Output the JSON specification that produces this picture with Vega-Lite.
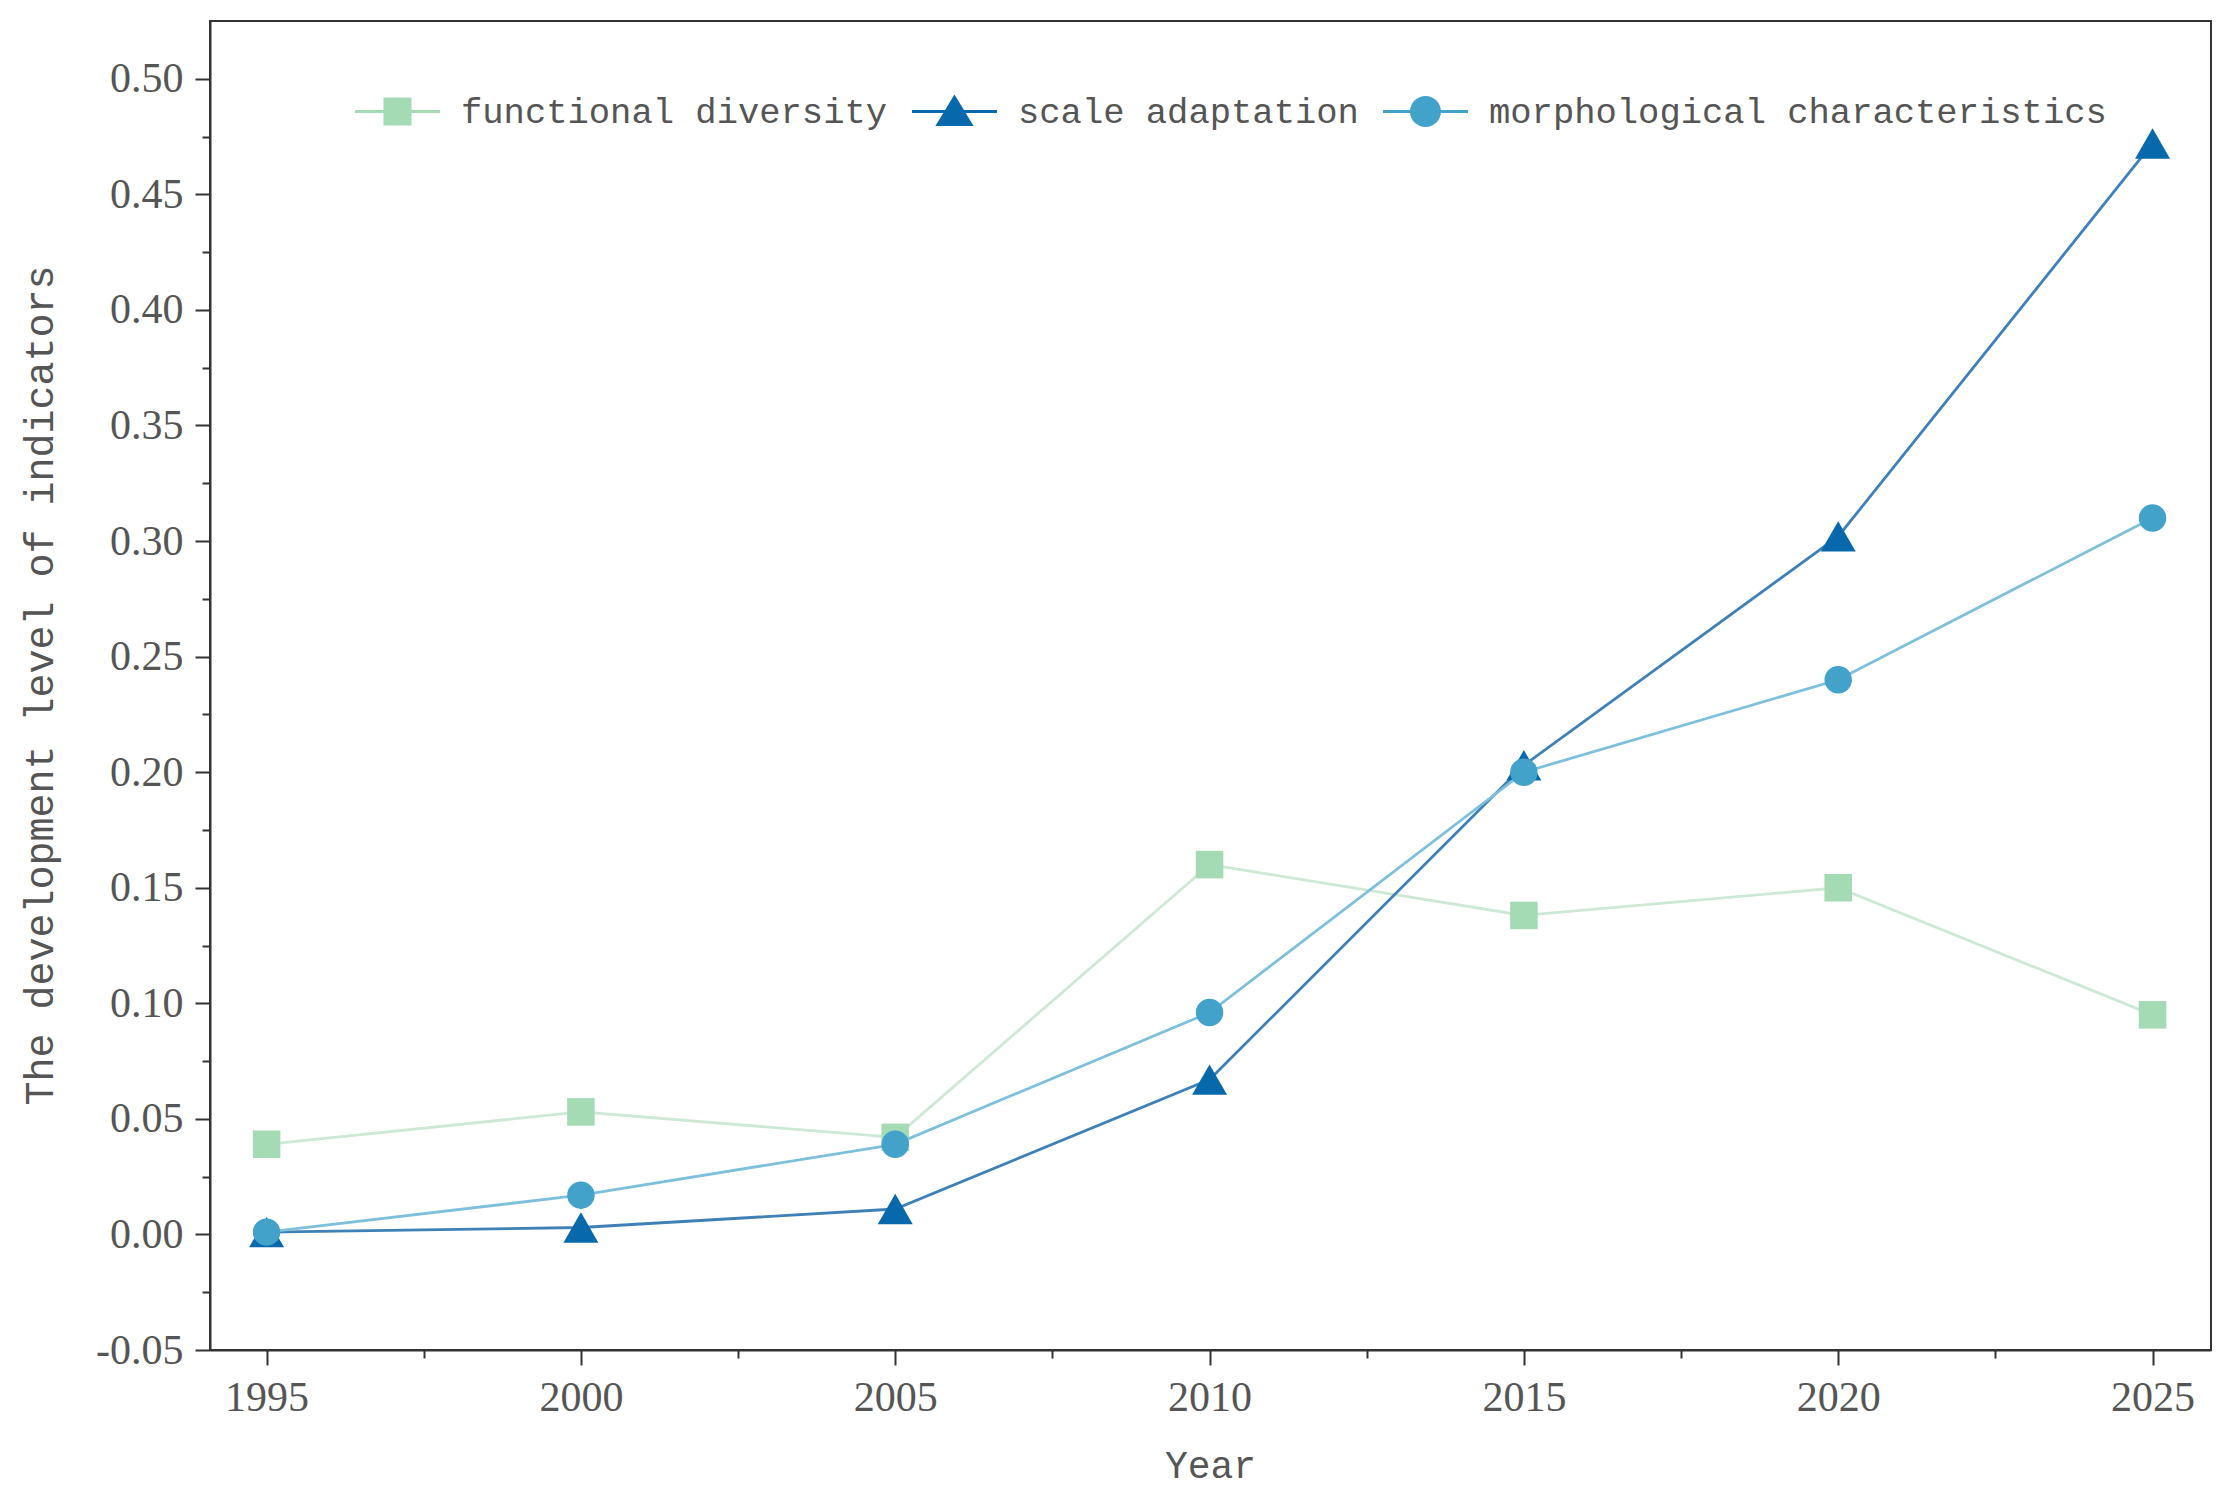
{
  "$schema": "https://vega.github.io/schema/vega-lite/v6.json",
  "width": 2001,
  "height": 1329,
  "autosize": "none",
  "padding": {"left": 210, "top": 21, "right": 14, "bottom": 157},
  "background": "white",
  "config": {
    "view": {"stroke": "#333333", "strokeWidth": 2},
    "axis": {
      "grid": false,
      "domainColor": "#333333",
      "domainWidth": 2,
      "tickColor": "#333333",
      "tickWidth": 2,
      "labelColor": "#555555",
      "titleColor": "#555555",
      "labelOverlap": false,
      "labelFlush": false
    }
  },
  "data": {
    "values": [
      {"year": 1995, "series": "functional diversity", "value": 0.039},
      {"year": 2000, "series": "functional diversity", "value": 0.053},
      {"year": 2005, "series": "functional diversity", "value": 0.042},
      {"year": 2010, "series": "functional diversity", "value": 0.160},
      {"year": 2015, "series": "functional diversity", "value": 0.138},
      {"year": 2020, "series": "functional diversity", "value": 0.150},
      {"year": 2025, "series": "functional diversity", "value": 0.095},
      {"year": 1995, "series": "scale adaptation", "value": 0.001},
      {"year": 2000, "series": "scale adaptation", "value": 0.003},
      {"year": 2005, "series": "scale adaptation", "value": 0.011},
      {"year": 2010, "series": "scale adaptation", "value": 0.067},
      {"year": 2015, "series": "scale adaptation", "value": 0.203},
      {"year": 2020, "series": "scale adaptation", "value": 0.302},
      {"year": 2025, "series": "scale adaptation", "value": 0.472},
      {"year": 1995, "series": "morphological characteristics", "value": 0.001},
      {"year": 2000, "series": "morphological characteristics", "value": 0.017},
      {"year": 2005, "series": "morphological characteristics", "value": 0.039},
      {"year": 2010, "series": "morphological characteristics", "value": 0.096},
      {"year": 2015, "series": "morphological characteristics", "value": 0.200},
      {"year": 2020, "series": "morphological characteristics", "value": 0.240},
      {"year": 2025, "series": "morphological characteristics", "value": 0.310}
    ]
  },
  "encoding": {
    "x": {
      "field": "year",
      "type": "quantitative",
      "scale": {"domain": [1994.1, 2025.93], "nice": false, "zero": false},
      "axis": {
        "title": "Year",
        "values": [1995, 1997.5, 2000, 2002.5, 2005, 2007.5, 2010, 2012.5, 2015, 2017.5, 2020, 2022.5, 2025],
        "labelExpr": "datum.value % 5 == 0 ? format(datum.value, 'd') : ''",
        "tickSize": {"condition": {"test": "datum.value % 5 != 0", "value": 8}, "value": 15},
        "labelPadding": 12,
        "labelFont": "Liberation Serif",
        "labelFontSize": 42,
        "titleFont": "Liberation Mono",
        "titleFontSize": 38,
        "titleFontWeight": "normal",
        "titleX": 1000,
        "titleY": 116,
        "titleBaseline": "middle"
      }
    },
    "y": {
      "field": "value",
      "type": "quantitative",
      "scale": {"domain": [-0.05, 0.525], "nice": false, "zero": false},
      "axis": {
        "title": "The development level of indicators",
        "values": [-0.05, -0.025, 0, 0.025, 0.05, 0.075, 0.1, 0.125, 0.15, 0.175, 0.2, 0.225, 0.25, 0.275, 0.3, 0.325, 0.35, 0.375, 0.4, 0.425, 0.45, 0.475, 0.5],
        "labelExpr": "round(datum.value * 1000) % 50 == 0 ? replace(format(datum.value, '.2f'), '\u2212', '-') : ''",
        "tickSize": {"condition": {"test": "round(datum.value * 1000) % 50 != 0", "value": 8}, "value": 15},
        "labelPadding": 12,
        "labelFont": "Liberation Serif",
        "labelFontSize": 42,
        "titleFont": "Liberation Mono",
        "titleFontSize": 40,
        "titleFontWeight": "normal",
        "titleX": -170,
        "titleY": 664,
        "titleBaseline": "middle",
        "titleAngle": -90
      }
    }
  },
  "layer": [
    {
      "transform": [{"filter": "datum.series == 'functional diversity'"}],
      "mark": {"type": "line", "strokeWidth": 2.8, "color": "#cde9d6"},
      "encoding": {}
    },
    {
      "transform": [{"filter": "datum.series == 'functional diversity'"}],
      "mark": {"type": "point", "shape": "square", "filled": true, "size": 760, "opacity": 1, "color": "#a5dbb4"},
      "encoding": {}
    },
    {
      "transform": [{"filter": "datum.series == 'scale adaptation'"}],
      "mark": {"type": "line", "strokeWidth": 2.8, "color": "#3f81b6"},
      "encoding": {}
    },
    {
      "transform": [{"filter": "datum.series == 'scale adaptation'"}],
      "mark": {"type": "point", "shape": "triangle-up", "filled": true, "size": 1225, "opacity": 1, "color": "#0868ac"},
      "encoding": {}
    },
    {
      "transform": [{"filter": "datum.series == 'morphological characteristics'"}],
      "mark": {"type": "line", "strokeWidth": 2.8, "color": "#7ec0dc"},
      "encoding": {}
    },
    {
      "transform": [{"filter": "datum.series == 'morphological characteristics'"}],
      "mark": {"type": "point", "shape": "circle", "filled": true, "size": 755, "opacity": 1, "color": "#43a2ca"},
      "encoding": {}
    },
    {
      "transform": [{"filter": "datum.year < 1900"}],
      "mark": {"type": "point", "size": 7225, "opacity": 1, "filled": true, "strokeWidth": 0},
      "encoding": {
        "fill": {
          "field": "series",
          "type": "nominal",
          "scale": {
            "domain": ["functional diversity", "scale adaptation", "morphological characteristics"],
            "range": ["#a5dbb4", "#0868ac", "#43a2ca"]
          },
          "legend": {
            "title": null,
            "orient": "none",
            "direction": "horizontal",
            "legendX": 145,
            "legendY": 48,
            "symbolSize": 7225,
            "symbolStrokeWidth": 0,
            "labelFont": "Liberation Mono",
            "labelFontSize": 35.5,
            "labelColor": "#555555",
            "labelOffset": 21,
            "columnPadding": 24,
            "labelLimit": 1000
          }
        },
        "shape": {
          "field": "series",
          "type": "nominal",
          "scale": {
            "domain": ["functional diversity", "scale adaptation", "morphological characteristics"],
            "range": [
              "M-1,-0.033H-0.3V0.033H-1Z M0.3,-0.033H1V0.033H0.3Z M-0.33,-0.33H0.33V0.33H-0.33Z",
              "M-1,-0.033H-0.2V0.033H-1Z M0.2,-0.033H1V0.033H0.2Z M0,-0.4L0.45,0.34H-0.45Z",
              "M-1,-0.033H-0.34V0.033H-1Z M0.34,-0.033H1V0.033H0.34Z M-0.365,0A0.365,0.365 0 1,1 0.365,0A0.365,0.365 0 1,1 -0.365,0Z"
            ]
          },
          "legend": {
            "title": null,
            "orient": "none",
            "direction": "horizontal",
            "legendX": 145,
            "legendY": 48,
            "symbolSize": 7225,
            "symbolStrokeWidth": 0,
            "labelFont": "Liberation Mono",
            "labelFontSize": 35.5,
            "labelColor": "#555555",
            "labelOffset": 21,
            "columnPadding": 24,
            "labelLimit": 1000
          }
        }
      }
    }
  ]
}
